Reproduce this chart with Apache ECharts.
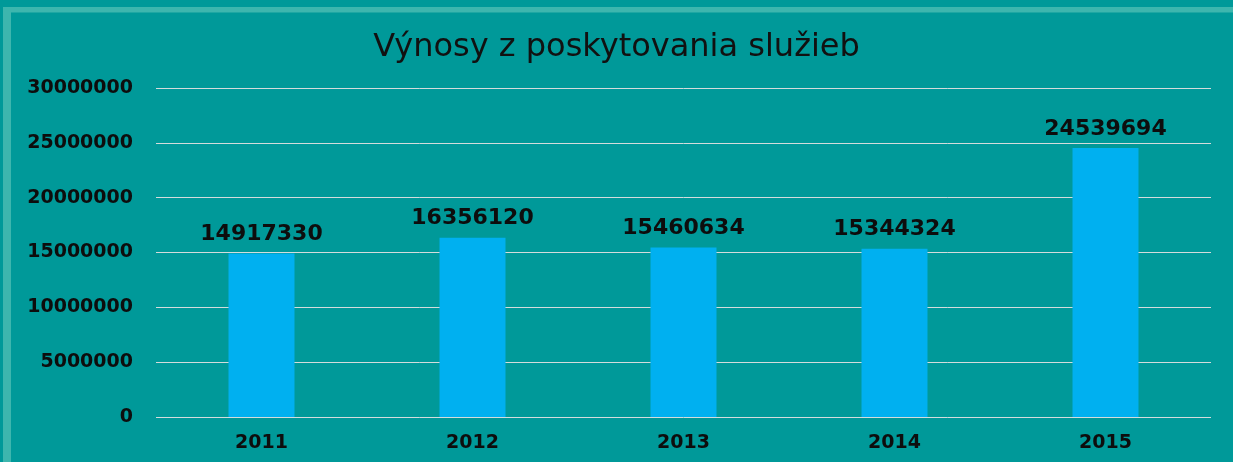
<!DOCTYPE html>
<html><head><meta charset="utf-8">
<script src="https://cdn.jsdelivr.net/npm/echarts@6/dist/echarts.min.js"></script>
<style>html,body{margin:0;padding:0;background:#009999;}#c{width:1233px;height:462px;}</style>
</head><body><div id="c"></div>
<script>
const categories = ['2011','2012','2013','2014','2015'];
const values = [14917330, 16356120, 15460634, 15344324, 24539694];
const titleText = 'Výnosy z poskytovania služieb';

const chart = echarts.init(document.getElementById('c'));
chart.setOption({
  backgroundColor: '#009999',
  animation: false,
  title: {
    text: titleText, left: 'center', top: 27,
    textStyle: {fontFamily: 'DejaVu Sans', fontWeight: 'normal', fontSize: 32, color: '#111'}
  },
  graphic: [
    {type: 'rect', shape: {x: 3, y: 7, width: 1300, height: 5.5}, style: {fill: '#3db6ae'}, z: 0},
    {type: 'rect', shape: {x: 3, y: 7, width: 8, height: 500}, style: {fill: '#3db6ae'}, z: 0}
  ],
  grid: {left: 156, right: 22, top: 88, bottom: 45},
  xAxis: {
    type: 'category', data: categories,
    axisLine: {show: false}, axisTick: {show: false},
    axisLabel: {margin: 17, fontFamily: 'DejaVu Sans', fontWeight: 'bold', fontSize: 19, color: '#0d0d0d'}
  },
  yAxis: {
    type: 'value', min: 0, max: 30000000, interval: 5000000,
    axisLine: {show: false}, axisTick: {show: false},
    splitLine: {lineStyle: {color: '#d4dcdc', width: 1}},
    axisLabel: {margin: 23, fontFamily: 'DejaVu Sans', fontWeight: 'bold', fontSize: 19, color: '#0d0d0d',
      formatter: v => String(v)}
  },
  series: [{
    type: 'bar', data: values, barWidth: 66,
    itemStyle: {color: '#00b0f0'},
    label: {show: true, position: 'top', distance: 8, fontFamily: 'DejaVu Sans', fontWeight: 'bold', fontSize: 22, color: '#0d0d0d'}
  }]
});
</script></body></html>
